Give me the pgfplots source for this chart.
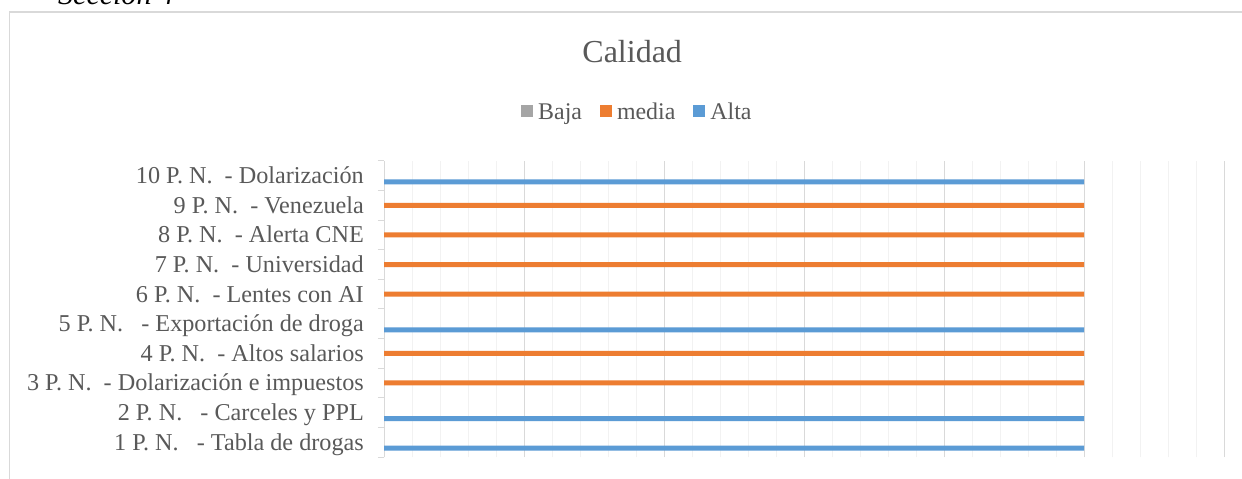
\documentclass[border=0pt]{standalone}
\usepackage{fontspec}
\setmainfont{Liberation Serif}
\usepackage{pgfplots}
\pgfplotsset{compat=1.18}
\definecolor{txt}{HTML}{595959}
\definecolor{gmaj}{HTML}{D9D9D9}
\definecolor{gmin}{HTML}{F2F2F2}
\definecolor{cbaja}{HTML}{A5A5A5}
\definecolor{cmedia}{HTML}{ED7D31}
\definecolor{calta}{HTML}{5B9BD5}
\begin{document}
\begin{tikzpicture}
\useasboundingbox (0,0) rectangle (1242bp,479bp);
\fill[white] (0,0) rectangle (1242bp,479bp);
\node[anchor=base west, font=\fontsize{30bp}{36bp}\selectfont\itshape, inner sep=0pt] at (58bp,474.5bp) {Sección 4};
\draw[gmaj, line width=1.5bp] (9.5bp,-5bp) -- (9.5bp,467bp) -- (1250bp,467bp);
\node[anchor=base, font=\fontsize{32bp}{38bp}\selectfont, text=txt, inner sep=0pt] at (632.2bp,416.3bp) {Calidad};
\begin{axis}[
  at={(384bp,22bp)}, anchor=south west,
  scale only axis, width=840bp, height=296bp,
  xmin=0, xmax=6, ymin=0.5, ymax=10.5,
  axis lines*=left,
  x axis line style={draw=none},
  y axis line style={draw=gmaj, line width=1bp},
  xtick={0,1,...,6}, xticklabels={},
  minor x tick num=4,
  xmajorgrids, xminorgrids,
  major grid style={draw=gmaj, line width=1bp},
  minor grid style={draw=gmin, line width=1bp},
  xtick style={draw=none},
  minor x tick style={draw=none},
  major x tick style={draw=none},
  ytick={1,...,10},
  minor ytick={0.5,1.5,...,10.5},
  major y tick style={draw=none},
  minor y tick style={draw=gmaj, line width=1bp},
  tick align=outside,
  major tick length=0pt,
  minor tick length=6bp,
  yticklabels={
    {1 P.~N.~~~- Tabla de drogas},
    {2 P.~N.~~~- Carceles y PPL},
    {3 P.~N.~~- Dolarización e impuestos},
    {4 P.~N.~~- Altos salarios},
    {5 P.~N.~~~- Exportación de droga},
    {6 P.~N.~~- Lentes con AI},
    {7 P.~N.~~- Universidad},
    {8 P.~N.~~- Alerta CNE~},
    {9 P.~N.~~- Venezuela},
    {10 P.~N.~~- Dolarización}},
  yticklabel style={anchor=base east, inner sep=0pt, xshift=-20bp, yshift=-7.9bp,
    font=\fontsize{24.2bp}{29bp}\selectfont, text=txt},
  legend columns=3,
  legend style={at={(axis description cs:0.1631,1.1689)}, anchor=west,
    draw=none, fill=none, inner sep=0pt,
    font=\fontsize{23.9bp}{28bp}\selectfont, text=txt,
    nodes={inner sep=0pt, text height=16bp, text depth=0bp},
    /tikz/every odd column/.append style={column sep=5bp},
    /tikz/every even column/.append style={column sep=18bp}},
  legend image code/.code={\fill[#1] (0bp,-5.5bp) rectangle (12bp,6.5bp);},
]
\addlegendimage{fill=cbaja, draw=none}
\addplot[xbar, bar width=5bp, bar shift=0bp, fill=cmedia, draw=none]
  coordinates {(5,3) (5,4) (5,6) (5,7) (5,8) (5,9)};
\addplot[xbar, bar width=5bp, bar shift=-6bp, fill=calta, draw=none]
  coordinates {(5,1) (5,2) (5,5) (5,10)};
\legend{Baja,media,Alta}
\end{axis}
\end{tikzpicture}
\end{document}
